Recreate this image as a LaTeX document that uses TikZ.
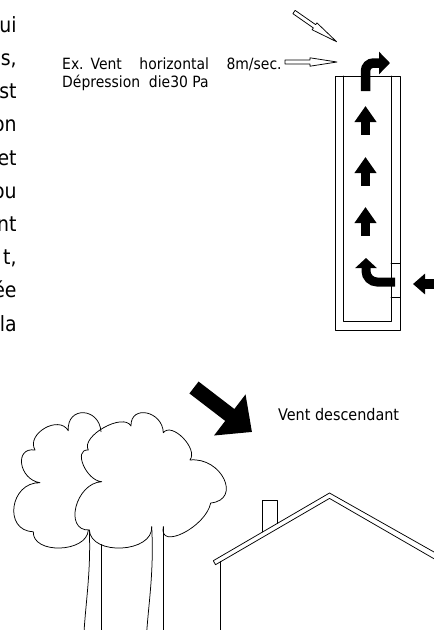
\documentclass[tikz,border=0pt]{standalone}
\usepackage{fontspec}
\setmainfont{DejaVu Sans Condensed}
\usetikzlibrary{arrows.meta}
\tikzset{
  trait/.style={line width=.75pt},
  pleine/.style={line width=#1, line cap=butt, line join=miter},
  creux/.pic={\draw[trait, fill=white] (0,-2) -- (25,-2) -- (25,-4.2) -- (52,0) -- (25,4.2) -- (25,2) -- (0,2) -- cycle;}
}
\begin{document}
\begin{tikzpicture}[x=1pt, y=-1pt, line join=round, line cap=round]
\useasboundingbox (0,0) rectangle (434,630);
\clip (0,0) rectangle (434,630);
\foreach \mot [count=\i from 0] in {ui,{s,},st,on,et,ou,nt,{t,},ée,la}
  \node[anchor=base east, inner sep=0, font=\fontsize{21}{25}\selectfont] (marge\i) at (16.8,{32.3+33.2*\i}) {\mot};
\node[anchor=base west, inner sep=0, font=\fontsize{15.5}{18}\selectfont] (horizontal) at (62,69)
  {\makebox[223pt][l]{Ex.\hspace{7pt}Vent\hspace{14pt plus 1fil}horizontal\hspace{14pt plus 1fil}8m/sec.}};
\node[anchor=base west, inner sep=0, font=\fontsize{15.5}{18}\selectfont] (depression) at (62,87) {Dépression\ \ die30 Pa};
\node[anchor=base west, inner sep=0, font=\fontsize{16}{19}\selectfont] (descendant) at (278,420) {Vent descendant};
% conduit
\def\xa{335} \def\xb{343} \def\xc{391} \def\xd{400}
\def\yh{76} \def\yb{330} \def\ybi{321}
\draw[trait] (\xa,\yh) rectangle (\xd,\yb);
\draw[trait] (\xb,\yh) -- (\xb,\ybi) -- (\xc,\ybi) -- (\xc,\yh);
\draw[trait] (\xc,263) -- (\xd,263) (\xc,297) -- (\xd,297);
\pic at (285,62) {creux};
\pic[rotate=-34.9] at (294,12) {creux};
\foreach \y in {106,157,207}
  \draw[pleine=9.5pt, -{Triangle[width=21pt,length=16pt]}] (365.5,\y+28.5) -- (365.5,\y);
\draw[pleine=9.5pt, rounded corners=8pt, -{Triangle[width=22pt,length=11pt]}] (365.5,91) -- (365.5,63) -- (390,63);
\draw[pleine=9pt, rounded corners=11pt, -{Triangle[width=21pt,length=10pt]}] (395,282) -- (366,282) -- (366,258);
\draw[pleine=10pt, -{Triangle[width=20pt,length=12pt]}] (445,284) -- (413,284);
% vent descendant
\draw[pleine=15pt, -{Triangle[width=50pt,length=28pt]}] (194,387.5) -- (252,432);
% arbres
\draw[trait] (101,431.7) .. controls (99.2,407) and (66.5,406) .. (68.3,430.7)
  .. controls (59,414.5) and (25.7,433.8) .. (35,450)
  .. controls (13.9,446.9) and (18.9,479.6) .. (40,482.7)
  .. controls (9.8,482) and (3.1,531) .. (33.3,531.7)
  .. controls (32.2,554.6) and (87.2,552.9) .. (88.3,530);
\draw[trait] (163.3,526.7) .. controls (158.4,550.9) and (205.8,527.2) .. (210.7,503)
  .. controls (242.2,499.7) and (221.5,456.7) .. (190,460)
  .. controls (198.5,448.7) and (171.8,421.4) .. (163.3,432.7)
  .. controls (162.7,410.9) and (130.4,404.2) .. (131,426)
  .. controls (123.2,412.1) and (80.5,436.1) .. (88.3,450)
  .. controls (72.7,448.9) and (86.1,480.6) .. (101.7,481.7)
  .. controls (75.7,482.8) and (63.3,531.1) .. (89.3,530)
  .. controls (90.9,556.2) and (153.3,552.9) .. (151.7,526.7);
\draw[trait] (151.7,526.7) .. controls (154,570) and (149,600) .. (146.7,632);
\draw[trait] (163.3,526.7) -- (163.3,632);
\draw[trait] (89.3,530) .. controls (91,570) and (86,600) .. (84,632);
\draw[trait] (101,544.5) -- (101,632);
% maison
\draw[trait] (440,555.4) -- (329.5,493) -- (213.3,560.7) -- (215.5,564.7) -- (329.5,498.4) -- (440,562.2);
\draw[trait] (220.7,561.6) -- (220.7,632);
\draw[trait] (262.7,532) -- (262.7,500.7) -- (277.3,500.7) -- (277.3,523.5);
\end{tikzpicture}
\end{document}
